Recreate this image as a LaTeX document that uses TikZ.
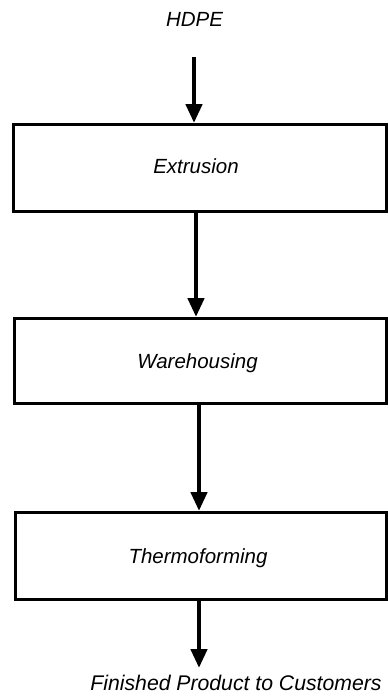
\documentclass[tikz,border=0pt]{standalone}
\usepackage{fontspec}
\setmainfont{Liberation Sans}
\usetikzlibrary{arrows.meta}
\begin{document}
\begin{tikzpicture}[x=1pt,y=-1pt,
  stagebox/.style={draw=black, line width=3pt, inner sep=0pt},
  lbl/.style={font=\fontsize{20.5}{24}\selectfont\itshape, inner sep=0pt, anchor=base},
  flow/.style={line width=4.5pt, -{Triangle[length=19pt,width=16pt]}}
]
\useasboundingbox (0,0) rectangle (388,696);
% boxes
\node[stagebox, minimum width=373pt, minimum height=87pt] (ext) at (199.5,168) {};
\node[stagebox, minimum width=372pt, minimum height=85pt] (war) at (200,361) {};
\node[stagebox, minimum width=371pt, minimum height=87pt] (thr) at (200.5,556) {};
% texts
\node[lbl] (hdpe) at (194.5,27) {HDPE};
\node[lbl] (extt) at (196,173) {Extrusion};
\node[lbl] (wart) at (197.5,368) {Warehousing};
\node[lbl] (thrt) at (198,563) {Thermoforming};
\node[lbl, font=\fontsize{21.2}{24}\selectfont\itshape] (fin) at (236,690.5) {Finished Product to Customers};
% arrow endpoints
\coordinate (a1s) at (194,57);
\coordinate (a4e) at (199,668);
\draw[flow] (a1s) -- (a1s |- ext.north);
\draw[flow] (ext.south -| 196,0) -- (war.north -| 196,0);
\draw[flow] (war.south -| 199,0) -- (thr.north -| 199,0);
\draw[flow] (thr.south -| a4e) -- (a4e);
\end{tikzpicture}
\end{document}
